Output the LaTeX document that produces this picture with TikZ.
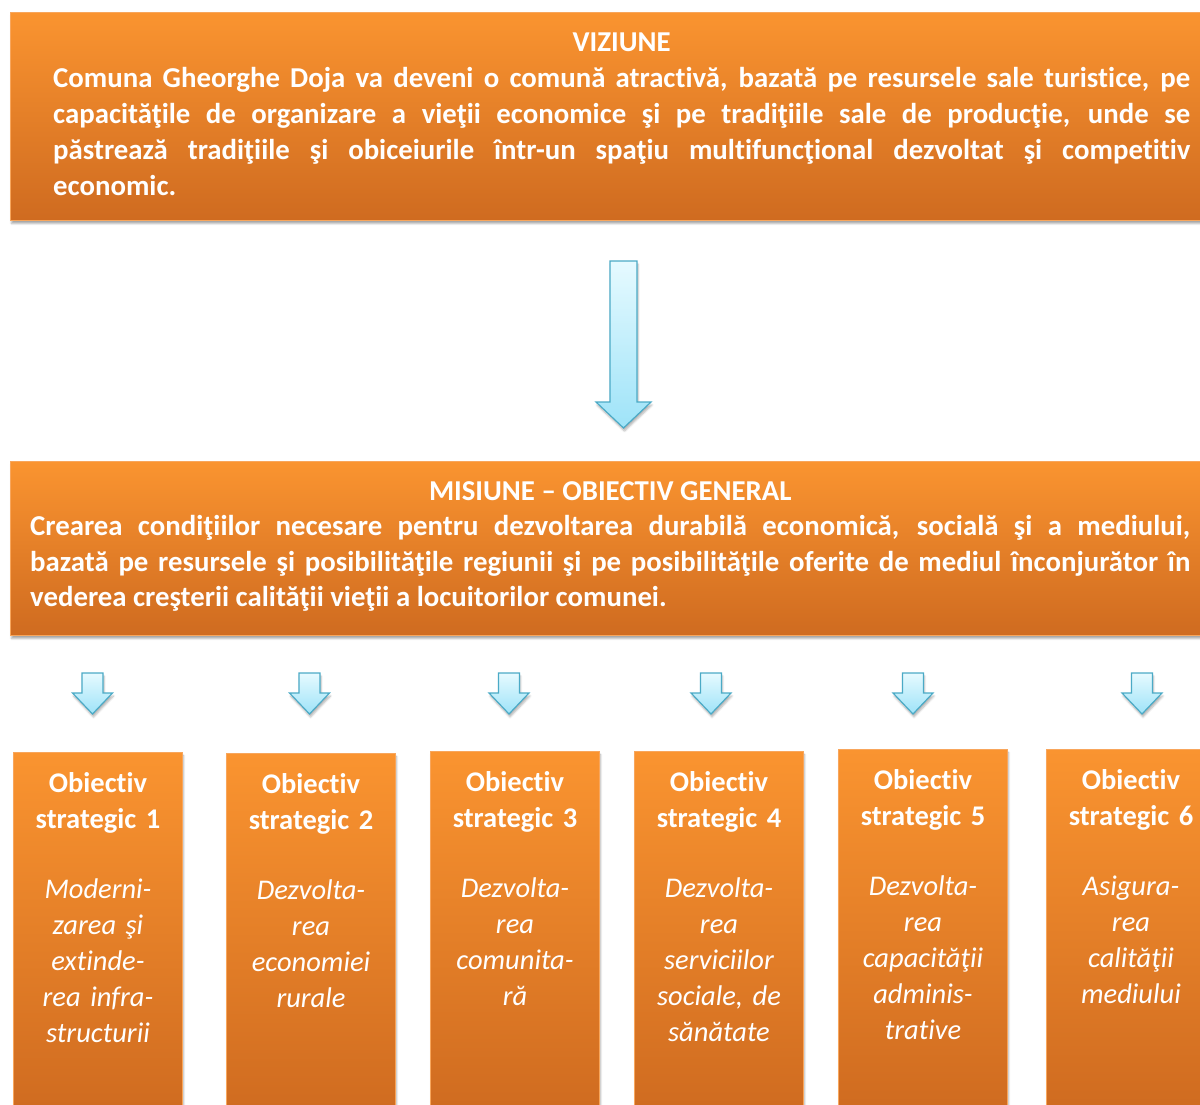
\documentclass[tikz,border=0pt]{standalone}
\usepackage{fontspec}
\setmainfont{Carlito}[Ligatures=NoCommon]
\usepackage{xcolor}
\usetikzlibrary{calc,shadows.blur}
\definecolor{orangetop}{RGB}{250,148,48}
\definecolor{orangebot}{RGB}{207,107,32}
\definecolor{orangeline}{RGB}{248,166,92}
\definecolor{arrowtop}{RGB}{230,250,255}
\definecolor{arrowbot}{RGB}{158,227,248}
\definecolor{arrowline}{RGB}{75,170,198}
% block arrow: x, top, tip, shaft half width, head half width, head length
\newcommand{\blockarrow}[6]{%
  \draw[bluearrow] (#1-#4,#2) -- (#1+#4,#2) -- (#1+#4,#3-#6) -- (#1+#5,#3-#6)
    -- (#1,#3) -- (#1-#5,#3-#6) -- (#1-#4,#3-#6) -- cycle;}
\tikzset{
  orangebox/.style={draw=orangeline, line width=1pt, top color=orangetop,
    bottom color=orangebot, inner sep=0pt,
    blur shadow={shadow xshift=1pt, shadow yshift=-3pt, shadow opacity=35}},
  whitetext/.style={text=white, inner sep=0pt,
    font=\fontsize{28.5pt}{36pt}\selectfont\bfseries},
  bigtext/.style={whitetext, anchor=base west, align=justify},
  bluearrow/.style={draw=arrowline, line width=1.2pt, top color=arrowtop,
    bottom color=arrowbot, line join=miter,
    blur shadow={shadow xshift=1pt, shadow yshift=-3pt, shadow opacity=30}}
}

\begin{document}
\begin{tikzpicture}[x=1pt, y=-1pt]
\clip (0,0) rectangle (1200,1104);
% Viziune
\node[orangebox, anchor=north west, minimum width=1215pt, minimum height=208pt] (vision) at (10,12) {};
\node[bigtext, text width=1137pt, font=\fontsize{28.8pt}{36pt}\selectfont\bfseries] (visiontxt) at (53,51) {%
\makebox[1137pt]{VIZIUNE}\par
Comuna Gheorghe Doja va deveni o comună atractivă, bazată pe resursele sale turistice, pe\linebreak
capacităţile de organizare a vieţii economice şi pe tradiţiile sale de producţie, unde se\linebreak
păstrează tradiţiile şi obiceiurile într-un spaţiu multifuncţional dezvoltat şi competitiv\linebreak
economic.};
\blockarrow{623.5}{261}{428}{13.5}{27.5}{26}
% Misiune
\node[orangebox, anchor=north west, minimum width=1215pt, minimum height=174pt] (mission) at (10,461) {};
\node[bigtext, text width=1160pt, font=\fontsize{28.8pt}{35.5pt}\selectfont\bfseries] (missiontxt) at (30,500) {%
\makebox[1160pt]{MISIUNE – OBIECTIV GENERAL}\par
Crearea condiţiilor necesare pentru dezvoltarea durabilă economică, socială şi a mediului,\linebreak
bazată pe resursele şi posibilităţile regiunii şi pe posibilităţile oferite de mediul înconjurător în\linebreak
vederea creşterii calităţii vieţii a locuitorilor comunei.};
% Obiective strategice
\foreach \x in {92.5,309.5,509,711,913,1142}{
  \blockarrow{\x}{673}{714}{10.5}{20}{21}
}
\foreach \n/\x/\y/\txt in {
  1/13/752/{Moderni-\\zarea şi\\extinde-\\rea infra-\\structurii},
  2/226/753/{Dezvolta-\\rea\\economiei\\rurale},
  3/430/751/{Dezvolta-\\rea\\comunita-\\ră},
  4/634/751/{Dezvolta-\\rea\\serviciilor\\sociale, de\\sănătate},
  5/838/749/{Dezvolta-\\rea\\capacităţii\\adminis-\\trative},
  6/1046/749/{Asigura-\\rea\\calităţii\\mediului}}
{
  \node[orangebox, anchor=north west, minimum width=169pt, minimum height=362pt] (obj\n) at (\x,\y) {};
  \node[whitetext, anchor=base, text width=169pt, align=center] (objtxt\n) at ($(obj\n.north)+(0,40)$)
    {Obiectiv\\strategic \n\\[34pt]\mdseries\itshape \txt};
}
\end{tikzpicture}
\end{document}
